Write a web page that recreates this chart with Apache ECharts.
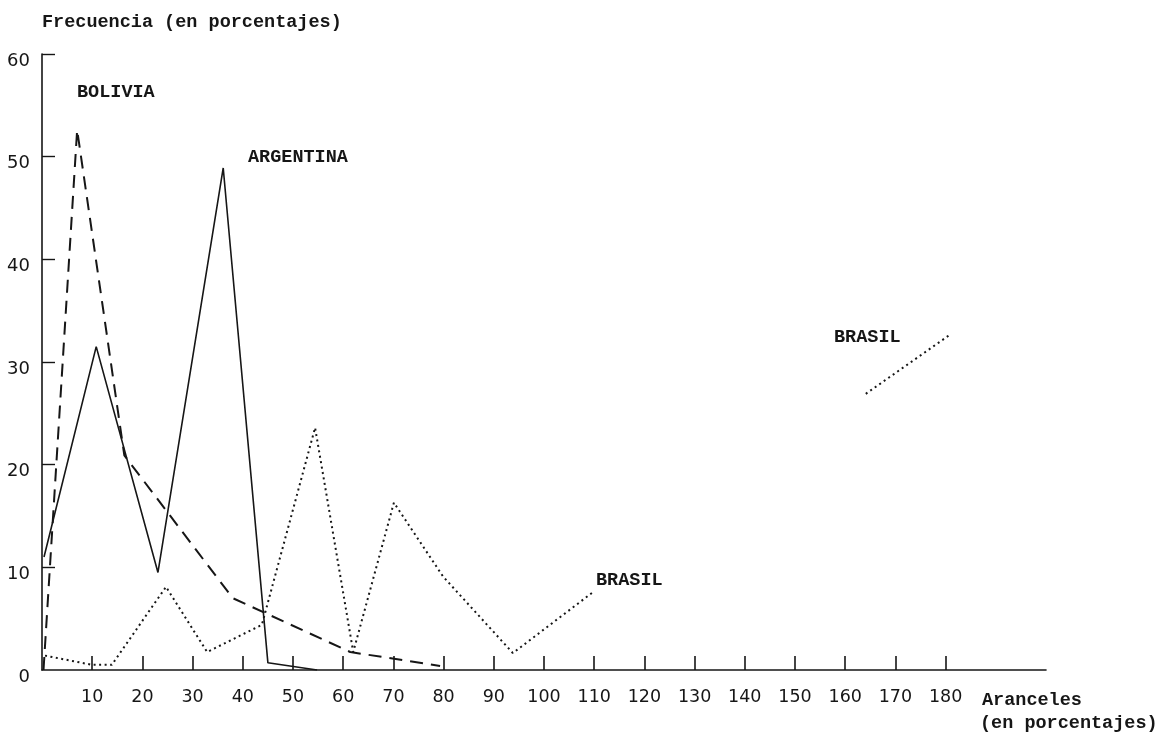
<!DOCTYPE html>
<html>
<head>
<meta charset="utf-8">
<script src="https://cdn.jsdelivr.net/npm/echarts@6/dist/echarts.min.js"></script>
<style>
  html, body { margin: 0; padding: 0; background: #ffffff; }
  #chart { width: 1167px; height: 747px; }
</style>
</head>
<body>
<div id="chart"></div>
<script>
// ---- Data ----
const xTickValues = [10, 20, 30, 40, 50, 60, 70, 80, 90, 100, 110, 120, 130, 140, 150, 160, 170, 180];
const yTickValues = [0, 10, 20, 30, 40, 50, 60];

// BOLIVIA (dashed)
const bolX = [0.3, 7.0, 16.4, 38.0, 61.4, 79.3];
const bolY = [0, 52.6, 20.9, 7.0, 1.75, 0.4];

// ARGENTINA (solid)
const argX = [0.4, 10.8, 23.1, 36.1, 45.0, 54.8];
const argY = [11.0, 31.5, 9.5, 48.9, 0.7, 0.0];

// BRASIL (dotted) - null marks the break between the two drawn pieces
const braX = [0.6, 10.0, 13.9, 24.7, 32.9, 43.8, 54.4, 62.0, 70.1, 79.9, 93.8, 109.8, 137, 164.1, 180.7];
const braY = [1.4, 0.5, 0.5, 8.1, 1.75, 4.4, 23.6, 1.75, 16.3, 9.1, 1.65, 7.6, null, 26.9, 32.6];

function pairs(xs, ys) {
  return xs.map((x, i) => [x, ys[i] === null ? '-' : ys[i]]);
}

const ink = '#161616';
const typeFont = '"Liberation Mono", "DejaVu Sans Mono", monospace';
const numFont = '"DejaVu Sans", "Noto Sans", sans-serif';

function label(text, x, y) {
  return {
    type: 'text', x: x, y: y, silent: true,
    style: {
      text: text, fill: ink, fontFamily: typeFont, fontWeight: 'bold',
      fontSize: 18.5, align: 'left', verticalAlign: 'middle'
    }
  };
}

const chart = echarts.init(document.getElementById('chart'), null, { renderer: 'canvas' });
chart.setOption({
  backgroundColor: '#ffffff',
  animation: false,
  grid: { left: 42, top: 54, width: 1004, height: 616, containLabel: false, outerBoundsMode: 'none' },
  xAxis: {
    type: 'value', min: 0, max: 200, interval: 10,
    axisLine: { show: true, onZero: false, lineStyle: { color: ink, width: 1.6 } },
    axisTick: { show: true, inside: true, length: 14, customValues: xTickValues, lineStyle: { color: ink, width: 1.6 } },
    axisLabel: {
      show: true, customValues: xTickValues, margin: 18, color: ink,
      fontFamily: numFont, fontSize: 17.5
    },
    splitLine: { show: false }
  },
  yAxis: {
    type: 'value', min: 0, max: 60, interval: 10,
    axisLine: { show: true, onZero: false, lineStyle: { color: ink, width: 1.6 } },
    axisTick: { show: true, inside: true, length: 13, customValues: yTickValues.slice(1), lineStyle: { color: ink, width: 1.4 } },
    axisLabel: {
      show: true, customValues: yTickValues, margin: 12, color: ink,
      fontFamily: numFont, fontSize: 18, verticalAlign: 'top', lineHeight: 14
    },
    splitLine: { show: false }
  },
  series: [
    {
      name: 'BOLIVIA', type: 'line', data: pairs(bolX, bolY),
      symbol: 'none', smooth: false,
      lineStyle: { color: ink, width: 2, type: [13, 8] }
    },
    {
      name: 'ARGENTINA', type: 'line', data: pairs(argX, argY),
      symbol: 'none', smooth: false,
      lineStyle: { color: ink, width: 1.6, type: 'solid' }
    },
    {
      name: 'BRASIL', type: 'line', data: pairs(braX, braY),
      symbol: 'none', smooth: false, connectNulls: false,
      lineStyle: { color: ink, width: 2, type: [2, 3.5] }
    }
  ],
  graphic: [
    label('Frecuencia (en porcentajes)', 42, 22),
    label('BOLIVIA', 77, 92),
    label('ARGENTINA', 248, 157),
    label('BRASIL', 596, 580),
    label('BRASIL', 834, 337),
    label('Aranceles', 982, 700),
    label('(en porcentajes)', 980, 723)
  ]
});
</script>
</body>
</html>
